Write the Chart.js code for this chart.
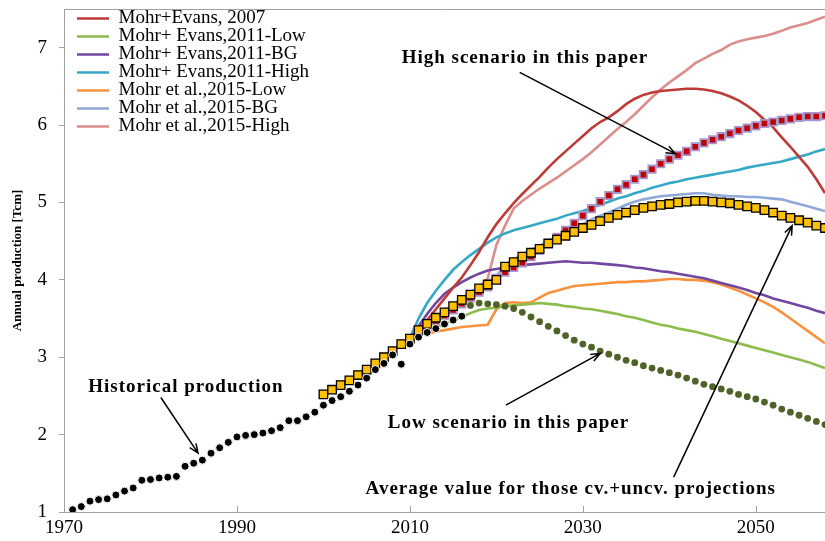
<!DOCTYPE html>
<html>
<head>
<meta charset="utf-8">
<script src="https://cdn.jsdelivr.net/npm/chart.js@4.4.1/dist/chart.umd.min.js"></script>
<style>
  html, body { margin: 0; padding: 0; background: #fff; }
</style>
</head>
<body>
<canvas id="gas" width="825" height="541"></canvas>
<script>
// historical production, 1971-2016
const histStart = 1971
const historical = [
  1.03, 1.07, 1.14, 1.16, 1.17, 1.22, 1.27, 1.31, 1.41, 1.42,
  1.44, 1.45, 1.46, 1.59, 1.63, 1.67, 1.76, 1.83, 1.90, 1.97,
  1.99, 2.00, 2.02, 2.05, 2.09, 2.18, 2.18, 2.23, 2.29, 2.38,
  2.44, 2.49, 2.56, 2.64, 2.73, 2.84, 2.92, 3.03, 2.91, 3.17,
  3.26, 3.32, 3.37, 3.43, 3.48, 3.53
]

// average of cv.+uncv. projections, 2000-2058
const avgStart = 2000
const average = [
  2.52, 2.58, 2.64, 2.70, 2.77, 2.84, 2.92, 3.00, 3.08, 3.17,
  3.24, 3.35, 3.43, 3.51, 3.58, 3.66, 3.74, 3.81, 3.89, 3.94,
  4.00, 4.17, 4.23, 4.30, 4.35, 4.40, 4.47, 4.52, 4.57, 4.62,
  4.67, 4.71, 4.76, 4.80, 4.84, 4.87, 4.90, 4.93, 4.95, 4.97,
  4.98, 5.00, 5.01, 5.02, 5.02, 5.01, 5.00, 4.99, 4.97, 4.95,
  4.93, 4.90, 4.87, 4.83, 4.80, 4.77, 4.74, 4.70, 4.67
]

// high scenario in this paper, 2000-2058
const highStart = 2000
const highScenario = [
  2.52, 2.58, 2.64, 2.70, 2.77, 2.84, 2.92, 3.00, 3.08, 3.17,
  3.24, 3.33, 3.40, 3.47, 3.54, 3.61, 3.69, 3.77, 3.84, 3.91,
  4.02, 4.10, 4.16, 4.22, 4.30, 4.38, 4.46, 4.55, 4.64, 4.73,
  4.83, 4.92, 5.01, 5.09, 5.17, 5.23, 5.30, 5.36, 5.43, 5.50,
  5.56, 5.61, 5.66, 5.72, 5.77, 5.81, 5.85, 5.89, 5.93, 5.96,
  5.99, 6.02, 6.04, 6.06, 6.08, 6.10, 6.11, 6.11, 6.12
]

// low scenario in this paper, 2017-2058
const lowStart = 2017
const lowScenario = [
  3.67, 3.70, 3.69, 3.68, 3.66, 3.63, 3.58, 3.52, 3.46, 3.40,
  3.34, 3.28, 3.22, 3.17, 3.13, 3.08, 3.04, 3.00, 2.96, 2.93,
  2.89, 2.86, 2.83, 2.80, 2.77, 2.73, 2.69, 2.65, 2.62, 2.59,
  2.56, 2.52, 2.49, 2.46, 2.42, 2.38, 2.33, 2.29, 2.25, 2.21,
  2.17, 2.13
]

// literature projections
const lineNames = [
  'Mohr+Evans, 2007', 'Mohr+ Evans,2011-Low', 'Mohr+ Evans,2011-BG', 'Mohr+ Evans,2011-High',
  'Mohr et al.,2015-Low', 'Mohr et al.,2015-BG', 'Mohr et al.,2015-High'
]
const lineStarts = [2010, 2012, 2011, 2010, 2012, 2012, 2012]

const me2007 = [
  3.25, 3.36, 3.48, 3.62, 3.76, 3.90, 4.03, 4.19, 4.36, 4.55,
  4.72, 4.86, 4.99, 5.11, 5.22, 5.33, 5.45, 5.56, 5.66, 5.76,
  5.86, 5.96, 6.04, 6.10, 6.18, 6.27, 6.34, 6.39, 6.42, 6.44,
  6.45, 6.46, 6.47, 6.47, 6.46, 6.44, 6.41, 6.37, 6.32, 6.25,
  6.17, 6.07, 5.97, 5.84, 5.72, 5.59, 5.46, 5.30, 5.12
]
const me2011Low = [
  3.33, 3.38, 3.43, 3.48, 3.52, 3.57, 3.61, 3.63, 3.64, 3.66,
  3.67, 3.68, 3.69, 3.70, 3.69, 3.68, 3.66, 3.65, 3.63, 3.62,
  3.60, 3.58, 3.56, 3.53, 3.51, 3.48, 3.45, 3.42, 3.40, 3.37,
  3.35, 3.33, 3.30, 3.27, 3.24, 3.21, 3.18, 3.15, 3.12, 3.09,
  3.06, 3.03, 3.00, 2.97, 2.94, 2.90, 2.86
]
const me2011BG = [
  3.40, 3.56, 3.70, 3.82, 3.90, 3.97, 4.03, 4.08, 4.12, 4.14,
  4.16, 4.17, 4.19, 4.20, 4.21, 4.22, 4.23, 4.24, 4.23, 4.22,
  4.22, 4.21, 4.20, 4.19, 4.18, 4.16, 4.15, 4.13, 4.11, 4.10,
  4.08, 4.06, 4.04, 4.02, 3.99, 3.96, 3.93, 3.90, 3.87, 3.83,
  3.80, 3.76, 3.73, 3.70, 3.67, 3.64, 3.60, 3.57
]
const me2011High = [
  3.25, 3.50, 3.70, 3.86, 4.00, 4.13, 4.23, 4.32, 4.40, 4.48,
  4.55, 4.60, 4.64, 4.67, 4.70, 4.73, 4.76, 4.79, 4.83, 4.86,
  4.89, 4.93, 4.97, 5.01, 5.05, 5.08, 5.12, 5.15, 5.19, 5.22,
  5.25, 5.27, 5.30, 5.32, 5.34, 5.36, 5.38, 5.40, 5.42, 5.45,
  5.47, 5.49, 5.51, 5.53, 5.56, 5.59, 5.62, 5.66, 5.69
]
const m2015Low = [
  3.30, 3.33, 3.35, 3.37, 3.39, 3.40, 3.41, 3.42, 3.62, 3.70,
  3.71, 3.70, 3.71, 3.77, 3.83, 3.86, 3.89, 3.92, 3.93, 3.94,
  3.95, 3.96, 3.97, 3.97, 3.98, 3.98, 3.99, 4.00, 4.01, 4.01,
  4.00, 4.00, 3.99, 3.97, 3.94, 3.90, 3.86, 3.81, 3.76, 3.71,
  3.65, 3.58, 3.50, 3.42, 3.34, 3.26, 3.18
]
const m2015BG = [
  3.45, 3.53, 3.60, 3.68, 3.76, 3.84, 3.91, 3.97, 4.05, 4.19,
  4.26, 4.33, 4.39, 4.44, 4.50, 4.56, 4.61, 4.66, 4.72, 4.78,
  4.83, 4.87, 4.92, 4.97, 5.01, 5.04, 5.06, 5.08, 5.09, 5.10,
  5.11, 5.12, 5.12, 5.10, 5.09, 5.08, 5.08, 5.07, 5.07, 5.06,
  5.05, 5.04, 5.01, 4.98, 4.95, 4.92, 4.89
]
const m2015High = [
  3.42, 3.50, 3.58, 3.66, 3.74, 3.82, 3.90, 4.02, 4.45, 4.70,
  4.92, 5.02, 5.10, 5.18, 5.25, 5.32, 5.40, 5.48, 5.56, 5.65,
  5.75, 5.85, 5.95, 6.04, 6.14, 6.25, 6.36, 6.46, 6.55, 6.63,
  6.71, 6.80, 6.86, 6.92, 6.97, 7.04, 7.08, 7.11, 7.13, 7.15,
  7.18, 7.22, 7.26, 7.29, 7.32, 7.36, 7.40
]
const lineValues = [me2007, me2011Low, me2011BG, me2011High, m2015Low, m2015BG, m2015High]
const lineColors = ['#BE3A36', '#8DBB4C', '#7147A0', '#36A8C6', '#F7923F', '#8EA8D8', '#D88F8D']

const xTicks = [1970, 1990, 2010, 2030, 2050]

// callouts, placed in data units (year, Tcm)
const notes = [
  { text: 'High scenario in this paper', at: [2023.3, 6.86], from: [2022.7, 6.68], to: [2040.7, 5.63] },
  { text: 'Historical production', at: [1984.1, 2.61], from: [1981.2, 2.48], to: [1985.5, 1.76] },
  { text: 'Low scenario in this paper', at: [2021.4, 2.15], from: [2021.1, 2.38], to: [2032.0, 3.05] },
  { text: 'Average value for those cv.+uncv. projections', at: [2028.6, 1.30], from: [2040.5, 1.45], to: [2054.2, 4.70] }
]

const pts = (start, vals) => vals.map((v, i) => ({ x: start + i, y: v }))

const lineSets = lineNames.map((name, i) => ({
  label: name,
  data: pts(lineStarts[i], lineValues[i]),
  borderColor: lineColors[i],
  backgroundColor: lineColors[i],
  borderWidth: 2.6,
  pointRadius: 0,
  tension: 0,
  order: 5
}))

const markerSets = [
  {
    label: 'Historical production',
    data: pts(histStart, historical),
    showLine: false,
    pointStyle: 'circle',
    pointRadius: 4,
    pointBackgroundColor: '#000',
    pointBorderColor: '#fff',
    pointBorderWidth: 1,
    order: 0
  },
  {
    label: 'Average value',
    data: pts(avgStart, average),
    showLine: false,
    pointStyle: 'rect',
    pointRadius: 6,
    pointBackgroundColor: '#FFC000',
    pointBorderColor: '#000',
    pointBorderWidth: 1.3,
    order: 1
  },
  {
    label: 'High scenario',
    data: pts(highStart, highScenario),
    showLine: false,
    pointStyle: 'rect',
    pointRadius: 5.2,
    pointBackgroundColor: '#C00000',
    pointBorderColor: '#A897CC',
    pointBorderWidth: 1.8,
    order: 2
  },
  {
    label: 'Low scenario',
    data: pts(lowStart, lowScenario),
    showLine: false,
    pointStyle: 'circle',
    pointRadius: 3.4,
    pointBackgroundColor: '#4F6228',
    pointBorderColor: '#4F6228',
    pointBorderWidth: 0,
    order: 0
  }
]

function arrow(ctx, x1, y1, x2, y2) {
  const a = Math.atan2(y2 - y1, x2 - x1)
  const h = 10
  ctx.beginPath()
  ctx.moveTo(x1, y1)
  ctx.lineTo(x2, y2)
  ctx.moveTo(x2 - h * Math.cos(a - 0.38), y2 - h * Math.sin(a - 0.38))
  ctx.lineTo(x2, y2)
  ctx.lineTo(x2 - h * Math.cos(a + 0.38), y2 - h * Math.sin(a + 0.38))
  ctx.stroke()
}

const decor = {
  id: 'decor',
  afterLayout(chart) {
    // legend sits inside the plot, a little off the left frame
    chart.legend.left = chart.chartArea.left + 13
    chart.legend.top = chart.chartArea.top + 1
  },
  afterDatasetsDraw(chart) {
    const { ctx, chartArea, scales: { x, y } } = chart
    ctx.save()
    // frame top and inside x ticks
    ctx.strokeStyle = '#A0A0A0'
    ctx.lineWidth = 1
    ctx.beginPath()
    ctx.moveTo(chartArea.left, chartArea.top + 0.5)
    ctx.lineTo(chartArea.right, chartArea.top + 0.5)
    xTicks.slice(1).forEach(t => {
      const px = Math.round(x.getPixelForValue(t)) + 0.5
      ctx.moveTo(px, chartArea.bottom)
      ctx.lineTo(px, chartArea.bottom - 6)
    })
    ctx.stroke()

    // callouts
    ctx.strokeStyle = '#000'
    ctx.fillStyle = '#000'
    ctx.lineWidth = 1.5
    ctx.font = 'bold 19px "Liberation Serif"'
    ctx.letterSpacing = '1px'
    ctx.textAlign = 'center'
    ctx.textBaseline = 'middle'
    notes.forEach(n => {
      arrow(ctx,
        x.getPixelForValue(n.from[0]), y.getPixelForValue(n.from[1]),
        x.getPixelForValue(n.to[0]), y.getPixelForValue(n.to[1]))
      ctx.fillText(n.text, x.getPixelForValue(n.at[0]), y.getPixelForValue(n.at[1]))
    })
    ctx.restore()
  }
}

const ctx = document.getElementById('gas').getContext('2d')

new Chart(ctx, {
  type: 'line',
  data: { datasets: [...lineSets, ...markerSets] },
  options: {
    responsive: false,
    animation: false,
    events: [],
    layout: { autoPadding: false, padding: { top: 9, right: 0, bottom: 0, left: 0 } },
    scales: {
      x: {
        type: 'linear',
        min: 1970,
        max: 2058,
        afterFit: s => { s.height = 29; s.paddingLeft = 0; s.paddingRight = 0 },
        afterBuildTicks: s => { s.ticks = xTicks.map(v => ({ value: v })) },
        ticks: {
          callback: v => String(v),
          font: { family: 'Liberation Serif', size: 19 },
          color: '#000',
          padding: 5,
          maxRotation: 0
        },
        grid: { display: false, drawTicks: false },
        border: { color: '#A0A0A0', width: 1 }
      },
      y: {
        min: 1,
        max: 7.5,
        afterFit: s => { s.width = 64; s.paddingTop = 0; s.paddingBottom = 0 },
        ticks: {
          stepSize: 1,
          includeBounds: false,
          callback: v => String(v),
          font: { family: 'Liberation Serif', size: 19 },
          color: '#000',
          padding: 12
        },
        grid: { drawOnChartArea: false, drawTicks: true, tickLength: 5, color: '#A0A0A0' },
        border: { color: '#A0A0A0', width: 1 },
        title: {
          display: true,
          text: 'Annual production [Tcm]',
          font: { family: 'Liberation Serif', size: 13, weight: 'bold' },
          color: '#000',
          padding: { top: 10, bottom: 0 }
        }
      }
    },
    plugins: {
      tooltip: { enabled: false },
      legend: {
        display: true,
        position: 'chartArea',
        align: 'start',
        labels: {
          filter: item => item.datasetIndex < lineNames.length,
          usePointStyle: true,
          pointStyle: 'line',
          pointStyleWidth: 33,
          padding: -1,
          color: '#000',
          font: { family: 'Liberation Serif', size: 19 }
        }
      }
    }
  },
  plugins: [decor]
})
</script>
</body>
</html>
